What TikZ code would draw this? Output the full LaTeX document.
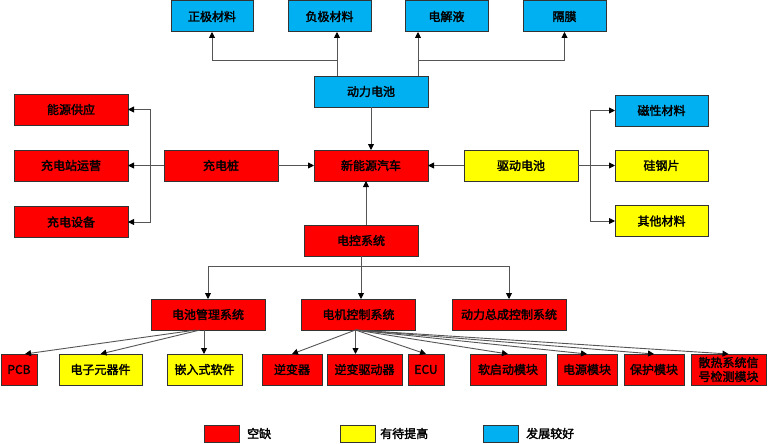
\documentclass[tikz,border=0pt]{standalone}
\usepackage{fontspec}
\setmainfont{Noto Sans CJK SC}[AutoFakeBold=2.2]
\usetikzlibrary{arrows.meta}
\definecolor{cred}{HTML}{FF0000}
\definecolor{cyel}{HTML}{FFFF00}
\definecolor{cblu}{HTML}{00B0F0}
\definecolor{bord}{HTML}{333333}
\definecolor{conn}{HTML}{555555}
\begin{document}
\begin{tikzpicture}[x=1pt,y=-1pt,
 box/.style={draw=bord, line width=1pt, inner sep=0pt, outer sep=0pt, minimum height=31pt, font=\fontsize{12}{15}\selectfont\bfseries, align=center},
 rbox/.style={box, fill=cred}, ybox/.style={box, fill=cyel}, bbox/.style={box, fill=cblu},
 arr/.style={draw=conn, line width=0.9pt, -{Triangle[length=6pt,width=6pt,color=black,fill=black]}},
 lgd/.style={draw=bord, line width=1pt, minimum width=35pt, minimum height=17pt, inner sep=0pt},
 lgt/.style={anchor=west, inner sep=0pt, font=\fontsize{12}{14}\selectfont\bfseries}]
\useasboundingbox[fill=white] (0,0) rectangle (768,444);
% top row
\node[bbox, minimum width=82pt] (zj) at (212,16.5) {正极材料};
\node[bbox, minimum width=83pt] (fj) at (329.5,16.5) {负极材料};
\node[bbox, minimum width=83pt] (djy) at (446.5,16.5) {电解液};
\node[bbox, minimum width=83pt] (gm) at (564.5,16.5) {隔膜};
% middle
\node[bbox, minimum width=114pt] (dl) at (371,91.5) {动力电池};
\node[rbox, minimum width=114pt] (xny) at (371,165.5) {新能源汽车};
\node[rbox, minimum width=114pt] (cdz) at (221,165.5) {充电桩};
\node[ybox, minimum width=114pt] (qddc) at (521,165.5) {驱动电池};
\node[rbox, minimum width=114pt] (nygy) at (71,109.5) {能源供应};
\node[rbox, minimum width=114pt] (cdzyy) at (71,165.5) {充电站运营};
\node[rbox, minimum width=114pt] (cdsb) at (71,222) {充电设备};
\node[bbox, minimum width=93pt] (cx) at (661.5,110.5) {磁性材料};
\node[ybox, minimum width=93pt] (ggp) at (661.5,165.5) {硅钢片};
\node[ybox, minimum width=93pt] (qt) at (661.5,221) {其他材料};
\node[rbox, minimum width=114pt] (dk) at (361,240.5) {电控系统};
\node[rbox, minimum width=114pt] (bms) at (208,314.5) {电池管理系统};
\node[rbox, minimum width=114pt] (djk) at (358.5,314.5) {电机控制系统};
\node[rbox, minimum width=114pt] (dlzc) at (509,314.5) {动力总成控制系统};
% bottom row
\node[rbox, minimum width=36pt] (pcb) at (19,369.5) {PCB};
\node[ybox, minimum width=83pt] (dzy) at (100.5,369.5) {电子元器件};
\node[ybox, minimum width=75pt] (qrs) at (204.5,369.5) {嵌入式软件};
\node[rbox, minimum width=60pt] (nbq) at (292,369.5) {逆变器};
\node[rbox, minimum width=75pt] (nbqd) at (364.5,369.5) {逆变驱动器};
\node[rbox, minimum width=36pt] (ecu) at (426,369.5) {ECU};
\node[rbox, minimum width=76pt] (rqd) at (508,369.5) {软启动模块};
\node[rbox, minimum width=60pt] (dy) at (587,369.5) {电源模块};
\node[rbox, minimum width=60pt] (bh) at (654,369.5) {保护模块};
\node[rbox, minimum width=75pt] (sr) at (728.5,369.5) {散热系统信\\[-1pt]号检测模块};
% connectors top
\coordinate (p1) at ([xshift=23pt]dl.north west);
\coordinate (p2) at ([xshift=-10pt]dl.north east);
\draw[arr] (p1) -- ++(0,-16) -| (zj.south);
\draw[arr] (p1) -- (p1 |- fj.south);
\draw[arr] (p2) -- (p2 |- djy.south);
\draw[arr] (p2) -- ++(0,-16) -| (gm.south);
\draw[arr] (dl.south) -- (xny.north);
\draw[arr] (cdz.east) -- (xny.west);
\draw[arr] (qddc.west) -- (xny.east);
\draw[arr] (cdz.west) -- (cdzyy.east);
\draw[arr] (cdz.west) -- ++(-14,0) |- (nygy.east);
\draw[arr] (cdz.west) -- ++(-14,0) |- (cdsb.east);
\draw[arr] (qddc.east) -- (ggp.west);
\draw[arr] (qddc.east) -- ++(12,0) |- (cx.west);
\draw[arr] (qddc.east) -- ++(12,0) |- (qt.west);
\coordinate (p3) at ([xshift=5pt]dk.north);
\draw[arr] (p3) -- (p3 |- xny.south);
\draw[arr] (dk.south) -- ++(0,10) -| (bms.north);
\draw[arr] (dk.south) -- ++(0,10) -| (dlzc.north);
\draw[arr] (dk.south) -- (dk.south |- djk.north);
% BMS
\coordinate (b1) at ([xshift=-4pt]bms.south);
\coordinate (b2) at ([xshift=-12pt]bms.south);
\coordinate (b3) at ([xshift=-8pt]bms.south);
\draw[arr] (b1) -- (b1 |- qrs.north);
\draw[arr] (b2) -- ([xshift=6pt]pcb.north);
\draw[arr] (b3) -- (dzy.north);
% motor control
\coordinate (m0) at ([xshift=-3pt]djk.south);
\draw[arr] (m0) -- (nbq.north);
\draw[arr] (m0) -- (m0 |- nbqd.north);
\draw[arr] (m0) -- (ecu.north);
\draw[arr] (m0) -- (rqd.north);
\draw[arr] (m0) -- (dy.north);
\draw[arr] (m0) -- (bh.north);
\draw[arr] (m0) -- (sr.north);
% legend
\node[lgd, fill=cred] (l1) at (221.5,433.5) {};
\node[lgt] (t1) at (247,433.5) {空缺};
\node[lgd, fill=cyel] (l2) at (357.5,433.5) {};
\node[lgt] (t2) at (380,433.5) {有待提高};
\node[lgd, fill=cblu] (l3) at (500.5,433.5) {};
\node[lgt] (t3) at (526,433.5) {发展较好};
\end{tikzpicture}
\end{document}
